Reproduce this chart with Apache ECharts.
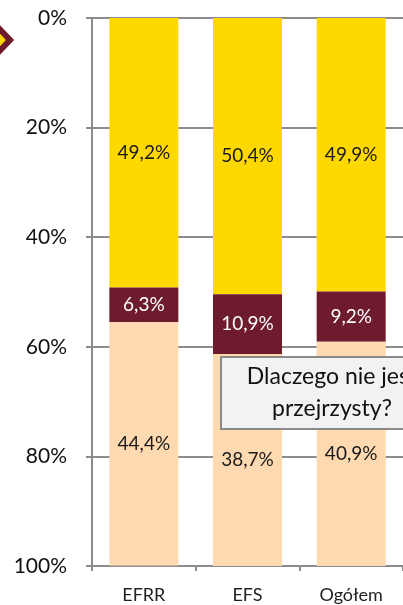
<!DOCTYPE html>
<html>
<head>
<meta charset="utf-8">
<script src="https://cdn.jsdelivr.net/npm/echarts@6/dist/echarts.min.js"></script>
<style>
  html, body { margin: 0; padding: 0; background: #fff; }
  #chart { width: 403px; height: 605px; }
</style>
</head>
<body>
<div id="chart"></div>
<script>
  // kategorie i udziały (%)
  var categories = ['EFRR', 'EFS', 'Ogółem'];
  var yellowVals = [49.2, 50.4, 49.9];
  var redVals = [6.3, 10.9, 9.2];
  var peachVals = [44.4, 38.7, 40.9];
  var yTicks = [0, 20, 40, 60, 80, 100];

  var FONT = 'Lato';
  var fmt = function (p) {
    return p.value.toFixed(1).replace('.', ',') + '%';
  };

  function makeSeries(name, data, color, labelColor) {
    return {
      name: name,
      type: 'bar',
      stack: 'all',
      barWidth: 69,
      data: data,
      itemStyle: { color: color },
      label: {
        show: true,
        position: 'inside',
        formatter: fmt,
        color: labelColor,
        fontFamily: FONT,
        fontSize: 19
      }
    };
  }

  var chart = echarts.init(document.getElementById('chart'));
  chart.setOption({
    animation: false,
    grid: { left: 92, top: 18, width: 315, height: 548 },
    xAxis: {
      type: 'category',
      data: categories,
      axisLine: { onZero: false, lineStyle: { color: '#8c8c8c', width: 2 } },
      axisTick: { show: true, length: 5, lineStyle: { color: '#8c8c8c', width: 2 } },
      axisLabel: { color: '#222', fontFamily: FONT, fontSize: 18, margin: 20 }
    },
    yAxis: {
      type: 'value',
      inverse: true,
      min: yTicks[0],
      max: yTicks[yTicks.length - 1],
      interval: 20,
      axisLine: { show: true, lineStyle: { color: '#8c8c8c', width: 2 } },
      axisTick: { show: true, length: 6, lineStyle: { color: '#8c8c8c', width: 2 } },
      splitLine: { show: true, lineStyle: { color: '#8c8c8c', width: 2 } },
      axisLabel: {
        color: '#111',
        fontFamily: FONT,
        fontSize: 21,
        margin: 25,
        formatter: function (v) { return v + '%'; }
      }
    },
    series: [
      makeSeries('a', yellowVals, '#FFD800', '#1a1a1a'),
      makeSeries('b', redVals, '#6E1C2D', '#ffffff'),
      makeSeries('c', peachVals, '#FFDAB1', '#1a1a1a')
    ],
    graphic: [
      {
        type: 'polygon',
        shape: { points: [[-31, 40], [-10, 19], [10, 40], [-10, 61]] },
        style: { fill: '#FFD800', stroke: '#6E1C2D', lineWidth: 6 }
      },
      {
        type: 'rect',
        shape: { x: 221, y: 357, width: 222, height: 72 },
        style: { fill: '#F2F2F2', stroke: '#8a8a8a', lineWidth: 2 },
        z: 100
      },
      {
        type: 'text',
        x: 332,
        y: 393,
        z: 101,
        style: {
          text: 'Dlaczego nie jest\nprzejrzysty?',
          fill: '#111',
          font: '23px Lato',
          align: 'center',
          verticalAlign: 'middle',
          lineHeight: 32
        }
      }
    ]
  });
</script>
</body>
</html>
